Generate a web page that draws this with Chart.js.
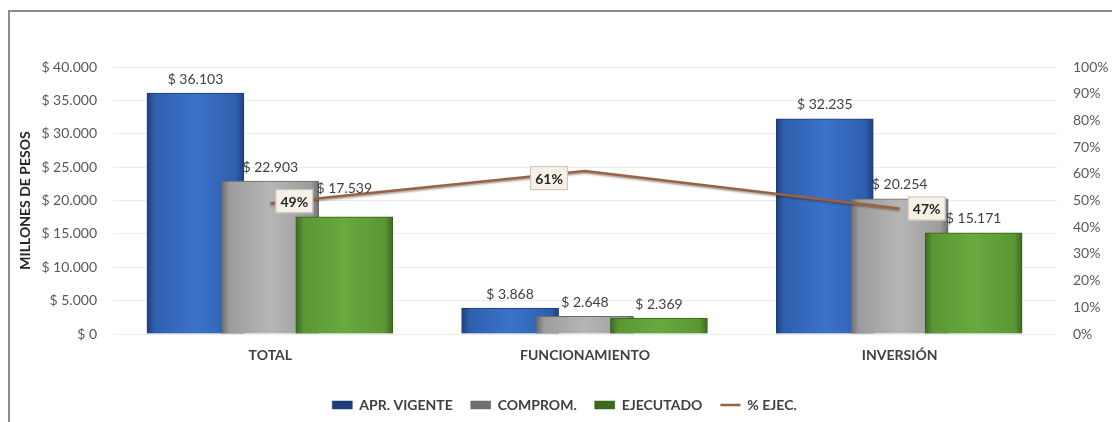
<!DOCTYPE html>
<html>
<head>
<meta charset="utf-8">
<script src="https://cdn.jsdelivr.net/npm/chart.js@4.4.1/dist/chart.umd.min.js"></script>
<style>
  html, body { margin: 0; padding: 0; background: #ffffff; }
  #wrap { width: 1112px; height: 422px; position: relative; }
</style>
</head>
<body>
<div id="wrap"><canvas id="c" width="1112" height="422"></canvas></div>
<script>
// Budget execution by line item (millions of pesos)
const categories = ['TOTAL', 'FUNCIONAMIENTO', 'INVERSIÓN'];
const aprVigente = [36103, 3868, 32235];
const comprom    = [22903, 2648, 20254];
const ejecutado  = [17539, 2369, 15171];
const pctEjec    = [0.49, 0.61, 0.47];

const seriesNames = ['APR. VIGENTE', 'COMPROM.', 'EJECUTADO', '% EJEC.'];
const leftTickLabels  = ['$ 0', '$ 5.000', '$ 10.000', '$ 15.000', '$ 20.000', '$ 25.000', '$ 30.000', '$ 35.000', '$ 40.000'];
const rightTickLabels = ['0%', '10%', '20%', '30%', '40%', '50%', '60%', '70%', '80%', '90%', '100%'];
const yTitle = 'MILLONES DE PESOS';

// Bars within a category overlap; each series sits at a fixed fraction of a category
const seriesShift = [-0.238, 0, 0.235];

function thousands(v) {
  return String(v).replace(/\B(?=(\d{3})+(?!\d))/g, '.');
}

// Horizontal shading for the bevelled bars
const palettes = [
  { base: '#2f5fae', edge: '#1f3f7c', mid: '#3b73c9', key: '#3563b3' },
  { base: '#9c9c9c', edge: '#6f6f6f', mid: '#b6b6b6', key: '#a3a3a3' },
  { base: '#5a9734', edge: '#3b6a1f', mid: '#69a93f', key: '#5b9b36' }
];
const BAR_W = 97;

function barFill(si) {
  return function (ctx) {
    const p = palettes[si];
    if (!ctx.raw || ctx.raw.x === undefined) return p.key;
    const xs = ctx.chart.scales.x;
    if (!xs) return p.base;
    const cx = xs.getPixelForValue(ctx.raw.x);
    if (!isFinite(cx)) return p.base;
    const g = ctx.chart.ctx.createLinearGradient(cx - BAR_W / 2, 0, cx + BAR_W / 2, 0);
    g.addColorStop(0, p.edge);
    g.addColorStop(0.08, p.base);
    g.addColorStop(0.5, p.mid);
    g.addColorStop(0.92, p.base);
    g.addColorStop(1, p.edge);
    return g;
  };
}

function barData(values, si) {
  return values.map((v, i) => ({ x: i + seriesShift[si], y: v }));
}

// Extra lift for value labels that would otherwise collide with the line
const labelLift = [[0, 0, 0], [0, 0, 0], [14, 0, 0]];
// Placement of the % boxes relative to their points
const pctBoxShift = [[24, -2], [-36, 7], [27, 0]];

const frame = {
  id: 'frame',
  beforeDraw(chart) {
    const c = chart.ctx;
    c.save();
    c.fillStyle = '#ffffff';
    c.fillRect(0, 0, chart.width, chart.height);
    c.strokeStyle = '#8a8a8a';
    c.lineWidth = 2;
    c.beginPath();
    c.moveTo(9, chart.height);
    c.lineTo(9, 11);
    c.lineTo(chart.width, 11);
    c.stroke();
    c.restore();
  }
};

const lineShadow = {
  id: 'lineShadow',
  beforeDatasetDraw(chart, args) {
    if (args.index !== 3) return;
    const c = chart.ctx;
    c.save();
    c.shadowColor = 'rgba(60,30,10,0.45)';
    c.shadowBlur = 2;
    c.shadowOffsetY = 1.5;
  },
  afterDatasetDraw(chart, args) {
    if (args.index !== 3) return;
    chart.ctx.restore();
  }
};

const valueLabels = {
  id: 'valueLabels',
  afterDatasetsDraw(chart) {
    const c = chart.ctx;
    c.save();
    c.font = '14px Lato';
    c.fillStyle = '#404040';
    c.textAlign = 'center';
    c.textBaseline = 'middle';
    for (let si = 0; si < 3; si++) {
      const meta = chart.getDatasetMeta(si);
      meta.data.forEach((el, i) => {
        const v = chart.data.datasets[si].data[i].y;
        c.fillText('$ ' + thousands(v), el.x, el.y - 14 - labelLift[si][i]);
      });
    }
    // percentage boxes on the line
    const lm = chart.getDatasetMeta(3);
    c.font = 'bold 14px Lato';
    lm.data.forEach((pt, i) => {
      const txt = Math.round(pctEjec[i] * 100) + '%';
      const cx = pt.x + pctBoxShift[i][0];
      const cy = pt.y + pctBoxShift[i][1];
      const w = c.measureText(txt).width + 10;
      const h = 24;
      c.fillStyle = '#f7f1e7';
      c.fillRect(cx - w / 2, cy - h / 2, w, h);
      c.strokeStyle = '#c9c0b4';
      c.lineWidth = 1;
      c.strokeRect(cx - w / 2 + 0.5, cy - h / 2 + 0.5, w - 1, h - 1);
      c.fillStyle = '#262626';
      c.fillText(txt, cx, cy + 1);
    });
    c.restore();
  }
};

const barCommon = {
  type: 'bar',
  grouped: false,
  barThickness: BAR_W,
  borderWidth: 1,
  pointStyle: 'rect',
  yAxisID: 'y'
};

new Chart(document.getElementById('c'), {
  data: {
    datasets: [
      Object.assign({}, barCommon, {
        label: seriesNames[0], data: barData(aprVigente, 0),
        backgroundColor: barFill(0), borderColor: '#1d3a73', order: 3
      }),
      Object.assign({}, barCommon, {
        label: seriesNames[1], data: barData(comprom, 1),
        backgroundColor: barFill(1), borderColor: '#6a6a6a', order: 2
      }),
      Object.assign({}, barCommon, {
        label: seriesNames[2], data: barData(ejecutado, 2),
        backgroundColor: barFill(2), borderColor: '#36621c', order: 1
      }),
      {
        type: 'line',
        label: seriesNames[3],
        data: pctEjec.map((v, i) => ({ x: i, y: v })),
        yAxisID: 'y2',
        borderColor: '#9a6244',
        backgroundColor: '#9a6244',
        borderWidth: 2.5,
        pointRadius: 0,
        pointStyle: 'line',
        tension: 0,
        order: 0
      }
    ]
  },
  options: {
    responsive: false,
    animation: false,
    events: [],
    layout: { padding: { top: 67, bottom: 0, left: 17, right: 0 } },
    plugins: {
      tooltip: { enabled: false },
      legend: {
        position: 'bottom',
        labels: {
          usePointStyle: true,
          pointStyleWidth: 20,
          boxWidth: 20,
          boxHeight: 8,
          padding: 18,
          color: '#404040',
          font: { family: 'Lato', size: 14, weight: 'bold' },
          sort: (a, b) => a.datasetIndex - b.datasetIndex,
          generateLabels(chart) {
            const items = Chart.defaults.plugins.legend.labels.generateLabels(chart);
            items.forEach((it) => {
              if (it.datasetIndex < 3) it.lineWidth = 0.5;
            });
            return items;
          }
        }
      }
    },
    scales: {
      x: {
        type: 'linear',
        min: -0.5,
        max: 2.5,
        offset: false,
        afterBuildTicks(scale) {
          scale.ticks = categories.map((_, i) => ({ value: i }));
        },
        afterFit(scale) { scale.height = 46; },
        grid: { display: false, drawTicks: false },
        border: { display: false },
        ticks: {
          padding: 13,
          color: '#404040',
          font: { family: 'Lato', size: 14, weight: 'bold' },
          callback: (v) => categories[Math.round(v)] || ''
        }
      },
      y: {
        position: 'left',
        min: 0,
        max: 40000,
        afterBuildTicks(scale) {
          scale.ticks = leftTickLabels.map((_, i) => ({ value: i * 5000 }));
        },
        afterFit(scale) { scale.width = 96; },
        grid: { color: '#ececec', drawTicks: false },
        border: { display: false },
        title: {
          display: true,
          text: yTitle,
          color: '#262626',
          padding: { top: 0, bottom: 4 },
          font: { family: 'Lato', size: 14, weight: 'bold' }
        },
        ticks: {
          padding: 16,
          color: '#595959',
          font: { family: 'Lato', size: 14 },
          callback: (v, i) => leftTickLabels[i]
        }
      },
      y2: {
        position: 'right',
        min: 0,
        max: 1,
        afterBuildTicks(scale) {
          scale.ticks = rightTickLabels.map((_, i) => ({ value: i / 10 }));
        },
        afterFit(scale) { scale.width = 55; },
        grid: { display: false, drawTicks: false },
        border: { display: false },
        ticks: {
          padding: 16,
          color: '#595959',
          font: { family: 'Lato', size: 14 },
          callback: (v, i) => rightTickLabels[i]
        }
      }
    }
  },
  plugins: [frame, lineShadow, valueLabels]
});
</script>
</body>
</html>
